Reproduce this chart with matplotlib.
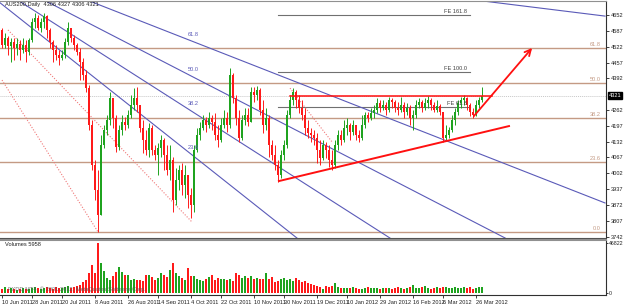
import numpy as np
import matplotlib
matplotlib.use("Agg")
import matplotlib.pyplot as plt

plt.rcParams["font.family"] = ["Liberation Sans", "DejaVu Sans"]

# --- data (daily bars, AUS200) ---
first_open = 4591
closes = [4529, 4558, 4525, 4541, 4517, 4533, 4509, 4529, 4500, 4550,
          4624, 4640, 4599, 4624, 4648, 4591, 4541, 4509, 4488, 4476,
          4488, 4541, 4599, 4558, 4529, 4500, 4459, 4406, 4352, 4200,
          4036, 3933, 3831, 4118, 4180, 4221, 4311, 4229, 4110, 4180,
          4213, 4200, 4242, 4283, 4311, 4283, 4188, 4139, 4098, 4188,
          4098, 4077, 4106, 4139, 4077, 4016, 4057, 3892, 3975, 4016,
          3954, 3995, 3913, 3872, 4098, 4159, 4188, 4221, 4200, 4229,
          4213, 4159, 4139, 4200, 4229, 4200, 4406, 4311, 4229, 4147,
          4221, 4242, 4213, 4336, 4324, 4344, 4262, 4200, 4229, 4118,
          4077, 4036, 3995, 4077, 4118, 4242, 4303, 4336, 4303, 4270,
          4242, 4188, 4168, 4159, 4147, 4098, 4065, 4118, 4098, 4057,
          4036, 4118, 4159, 4139, 4188, 4200, 4172, 4200, 4159, 4147,
          4200, 4242, 4229, 4250, 4262, 4291, 4270, 4283, 4262, 4303,
          4295, 4270, 4262, 4283, 4254, 4270, 4229, 4242, 4283, 4295,
          4270, 4291, 4303, 4283, 4262, 4279, 4254, 4147, 4159, 4180,
          4221, 4254, 4291, 4303, 4311, 4283, 4254, 4242, 4283, 4303,
          4321]
highs = [4599, 4578, 4566, 4558, 4558, 4558, 4550, 4558, 4550, 4558,
         4640, 4661, 4652, 4640, 4661, 4652, 4599, 4550, 4529, 4509,
         4509, 4558, 4624, 4599, 4570, 4537, 4517, 4476, 4426, 4365,
         4221, 4057, 4016, 4159, 4200, 4242, 4336, 4311, 4242, 4200,
         4242, 4233, 4262, 4324, 4352, 4357, 4283, 4221, 4180, 4209,
         4200, 4118, 4127, 4159, 4147, 4118, 4118, 4069, 4024, 4036,
         4044, 4036, 3975, 3942, 4118, 4188, 4213, 4242, 4233, 4254,
         4242, 4250, 4200, 4229, 4262, 4254, 4435, 4414, 4324, 4262,
         4242, 4270, 4270, 4357, 4357, 4361, 4352, 4303, 4270, 4242,
         4139, 4118, 4057, 4098, 4139, 4262, 4324, 4352, 4344, 4324,
         4303, 4270, 4221, 4188, 4180, 4168, 4139, 4139, 4131, 4118,
         4098, 4139, 4180, 4180, 4221, 4229, 4209, 4221, 4200, 4180,
         4242, 4254, 4254, 4270, 4283, 4311, 4303, 4303, 4295, 4315,
         4311, 4303, 4295, 4315, 4295, 4291, 4283, 4262, 4303, 4311,
         4303, 4311, 4320, 4311, 4295, 4303, 4287, 4254, 4200, 4192,
         4242, 4270, 4303, 4315, 4324, 4315, 4291, 4270, 4303, 4315,
         4357]
lows = [4517, 4517, 4488, 4459, 4468, 4488, 4468, 4496, 4459, 4488,
        4541, 4599, 4591, 4583, 4599, 4558, 4517, 4459, 4468, 4447,
        4468, 4476, 4529, 4541, 4509, 4488, 4385, 4385, 4336, 4180,
        4016, 3892, 3761, 3831, 4106, 4159, 4200, 4188, 4090, 4098,
        4159, 4180, 4188, 4229, 4262, 4254, 4172, 4085, 4077, 4069,
        4077, 4057, 3995, 4069, 4016, 3995, 3975, 3843, 3872, 3933,
        3913, 3901, 3860, 3818, 3843, 4090, 4139, 4180, 4172, 4188,
        4180, 4139, 4110, 4131, 4188, 4172, 4188, 4291, 4200, 4131,
        4139, 4200, 4196, 4213, 4295, 4303, 4242, 4168, 4180, 4069,
        4057, 4016, 3966, 3983, 4057, 4106, 4229, 4283, 4270, 4250,
        4221, 4159, 4147, 4131, 4118, 4044, 4036, 4057, 4065, 4028,
        4016, 4024, 4098, 4118, 4131, 4159, 4139, 4159, 4139, 4131,
        4139, 4188, 4213, 4221, 4229, 4250, 4254, 4262, 4242, 4254,
        4270, 4254, 4242, 4254, 4229, 4242, 4200, 4180, 4229, 4270,
        4254, 4262, 4270, 4262, 4254, 4254, 4242, 4131, 4139, 4147,
        4172, 4200, 4242, 4270, 4283, 4262, 4237, 4229, 4237, 4270,
        4295]
volumes = [3750, 5600, 3750, 4700, 3750, 2800, 3750, 4700, 3750, 3750,
           4700, 5600, 4700, 3750, 4700, 5600, 4700, 3750, 5600, 4700,
           4700, 5600, 6550, 4700, 5600, 6550, 7500, 10300, 12200, 18700,
           26200, 18700, 46800, 28100, 20600, 14000, 12200, 15900, 19700, 24300,
           19700, 16800, 16800, 12200, 13100, 12200, 12200, 11200, 16800, 16800,
           15000, 12200, 14000, 18700, 16800, 15000, 21500, 28100, 18700, 15900,
           14000, 12200, 23400, 15900, 15900, 13100, 12200, 11200, 13100, 15000,
           16800, 12200, 14000, 13100, 13100, 12200, 13100, 11200, 18700, 16800,
           14000, 15900, 14000, 15900, 13100, 14000, 13100, 13100, 18700, 13100,
           15000, 10300, 11200, 13100, 14000, 12200, 13100, 11200, 14000, 12200,
           10300, 11200, 9350, 8400, 7500, 6550, 5600, 3750, 6550, 5600,
           6550, 9350, 5600, 4700, 4700, 4700, 4700, 5600, 4700, 3750,
           3750, 4700, 5600, 4700, 4700, 4700, 3750, 4700, 4700, 4700,
           3750, 4700, 5600, 4700, 3750, 4700, 5600, 7500, 4700, 4700,
           5600, 6550, 4700, 3750, 4700, 5600, 4700, 5600, 5600, 4700,
           4700, 5600, 4700, 4700, 5600, 4700, 5600, 3750, 4700, 5600,
           5958]

date_ticks = [0, 10, 20, 31, 42, 52, 63, 73, 84, 94, 105, 115, 126, 137, 147, 158]
date_labels = ["10 Jun 2011", "28 Jun 2011", "20 Jul 2011", "8 Aug 2011",
               "26 Aug 2011", "14 Sep 2011", "4 Oct 2011", "22 Oct 2011",
               "10 Nov 2011", "30 Nov 2011", "19 Dec 2011", "10 Jan 2012",
               "29 Jan 2012", "16 Feb 2012", "6 Mar 2012", "26 Mar 2012"]
price_ticks = [4652, 4587, 4522, 4457, 4392, 4262, 4197, 4132, 4067,
               4002, 3937, 3872, 3807, 3742]
last_price = 4321

# Fibonacci retracement (0.0 .. 61.8) and expansion levels
fib_names = ["0.0", "23.6", "38.2", "50.0", "61.8"]
fib_prices = [3760, 4048, 4229, 4371, 4516]
fe_names = ["FE 61.8", "FE 100.0", "FE 161.8"]
fe_prices = [4274, 4418, 4652]
fe_span = (92, 156)

# Fibonacci fan: common origin (off-chart) and end points of each ray
fan_origin = (-31.3, 5002)
fan_names = ["23.6", "38.2", "50.0", "61.8", "100"]
fan_ends = [(98.3, 3736), (129.3, 3736), (167.7, 3736), (201.0, 3880), (201.0, 4648)]
fan_label_pos = [(62.0, 4098), (62.0, 4279), (62.0, 4418), (62.0, 4562), None]

# hand-drawn lines (bar, price)
support_line = [(92.3, 3970), (169.0, 4196)]
resist_line = [(96.0, 4320), (163.3, 4320)]
arrow_line = [(157.3, 4237), (176.7, 4517)]
dotted_lines = [[(0.0, 4385), (32.0, 3761)],
                [(2.0, 4591), (63.3, 3802)],
                [(96.0, 4352), (110.0, 4131)]]

# --- figure ---
W, H = 625, 304
fig = plt.figure(figsize=(W / 100, H / 100), dpi=100)
fig.patch.set_facecolor("white")
ax = fig.add_axes([0, 1 - 238 / H, 606 / W, 237 / H])
axv = fig.add_axes([0, 1 - 295 / H, 606 / W, 55 / H])

FS = 4.1
UP, DN = "#1fa31f", "#ff1a1a"
BLUE = "#5a5ab8"
TAN = "#c49a84"

n = len(closes)
opens = [first_open] + closes[:-1]
x = np.arange(n)
for i in range(n):
    o, c = opens[i], closes[i]
    col = UP if c >= o else DN
    hi = max(highs[i], o, c)
    lo = min(lows[i], o, c)
    ax.vlines(i, lo, hi, color=col, lw=0.7, zorder=3)
    ax.bar(i, max(abs(c - o), 2), bottom=min(o, c), width=0.6, color=col,
           lw=0, zorder=3)

ax.set_xlim(-0.67, 201.33)
ax.set_ylim(3736, 4710)

# retracement levels
for name, p in zip(fib_names, fib_prices):
    ax.axhline(p, color=TAN, lw=1.0, zorder=1)
    ax.text(199.5, p + 5, name, fontsize=FS, color=TAN, ha="right", va="bottom")

# expansion levels
for name, p in zip(fe_names, fe_prices):
    ax.plot(fe_span, [p, p], color="#707070", lw=0.8, zorder=1)
    ax.text(fe_span[1] - 1, p + 4, name, fontsize=FS, color="#404040",
            ha="right", va="bottom")

# fan rays
for name, end, lp in zip(fan_names, fan_ends, fan_label_pos):
    ax.plot([fan_origin[0], end[0]], [fan_origin[1], end[1]], color=BLUE,
            lw=0.8, zorder=2)
    if lp is not None:
        ax.text(lp[0], lp[1], name, fontsize=FS, color=BLUE, ha="left",
                va="bottom")

for seg in dotted_lines:
    ax.plot(*zip(*seg), color="#f07878", lw=0.8, ls=(0, (1, 1.5)), zorder=2)

ax.axhline(last_price, color="#c8c8c8", lw=0.7, ls=(0, (1, 1)), zorder=1)
ax.plot(*zip(*support_line), color="#ff1010", lw=1.4, zorder=4)
ax.plot(*zip(*resist_line), color="#ff1010", lw=1.1, zorder=4)
ax.annotate("", xy=arrow_line[1], xytext=arrow_line[0],
            arrowprops=dict(arrowstyle="->", color="#ff1010", lw=1.3,
                            mutation_scale=11, shrinkA=0, shrinkB=0), zorder=5)

ax.text(1, 4706, "AUS200,Daily  4306 4327 4306 4321", fontsize=FS,
        color="#202020", va="top", ha="left")

# price axis on the right
ax.yaxis.tick_right()
ax.set_yticks(price_ticks)
ax.set_yticklabels([str(p) for p in price_ticks])
ax.tick_params(axis="y", labelsize=FS, length=2, width=0.6, pad=1.5,
               colors="#202020")
ax.set_xticks([])
ax.text(1.004, last_price, str(last_price), transform=ax.get_yaxis_transform(),
        fontsize=FS, color="white", va="center", ha="left",
        bbox=dict(boxstyle="square,pad=0.15", fc="black", ec="black"))
ax.spines["left"].set_visible(False)
ax.spines["top"].set_color("#909090")
ax.spines["right"].set_color("#303030")
ax.spines["bottom"].set_color("#505050")
ax.spines["bottom"].set_linestyle((0, (1, 1)))

# volumes
vcols = [UP if closes[i] >= opens[i] else DN for i in range(n)]
axv.bar(x, volumes, width=0.4, color=vcols, lw=0)
axv.set_xlim(-0.67, 201.33)
axv.set_ylim(-1800, 49500)
axv.yaxis.tick_right()
axv.set_yticks([0, 46822])
axv.set_yticklabels(["0", "46822"])
axv.tick_params(axis="y", labelsize=3.8, length=1.5, width=0.6, pad=0.8,
                colors="#202020")
axv.set_xticks(date_ticks)
axv.set_xticklabels(date_labels, ha="left")
axv.tick_params(axis="x", labelsize=FS, length=2, width=0.6, pad=1.5,
                colors="#202020")
axv.spines["left"].set_visible(False)
axv.spines["top"].set_color("#909090")
axv.spines["top"].set_linewidth(1.5)
axv.spines["right"].set_color("#303030")
axv.spines["bottom"].set_color("#303030")
axv.text(1, 47500, "Volumes 5958", fontsize=FS, color="#202020", va="top")
axv.text(2, 800, "FXDD MT4, \u00a9 2001-2012, MetaQuotes Software Corp.",
         fontsize=FS, color="#505050", va="bottom", alpha=0.8)

fig.savefig("out.png", dpi=100)
